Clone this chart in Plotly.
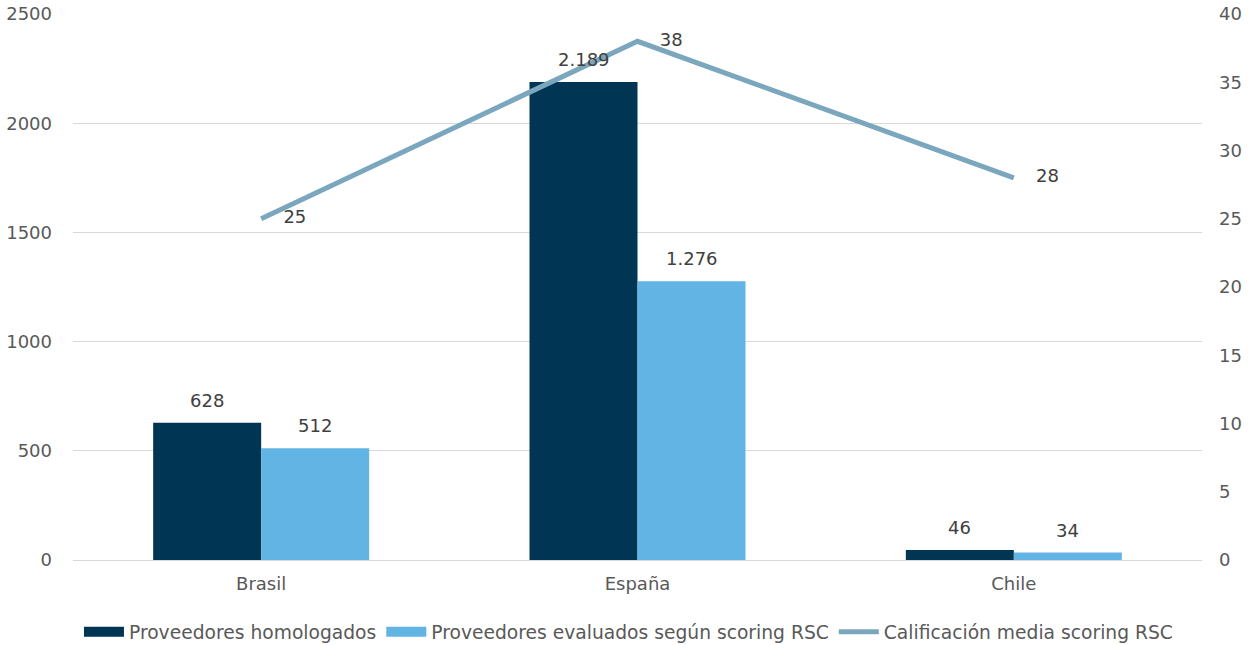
import plotly.graph_objects as go

categories = ["Brasil", "España", "Chile"]
homologados = [628, 2189, 46]
evaluados = [512, 1276, 34]
calificacion = [25, 38, 28]

y_ticks = [0, 500, 1000, 1500, 2000, 2500]
y2_ticks = [0, 5, 10, 15, 20, 25, 30, 35, 40]

font_family = "DejaVu Sans, Verdana, sans-serif"
text_color = "#595959"
label_color = "#404040"
c_dark = "#003554"
c_light = "#62B4E4"
c_line = "#7BA7BE"
FS = 18

def fmt(v):
    return f"{v:,}".replace(",", ".")

fig = go.Figure()
fig.add_trace(go.Bar(
    x=categories, y=homologados, name="Proveedores homologados",
    marker_color=c_dark, marker_line_width=0, showlegend=False,
))
fig.add_trace(go.Bar(
    x=categories, y=evaluados, name="Proveedores evaluados según scoring RSC",
    marker_color=c_light, marker_line_width=0, showlegend=False,
))
fig.add_trace(go.Scatter(
    x=categories, y=calificacion, name="Calificación media scoring RSC",
    mode="lines+markers+text", line=dict(color=c_line, width=5),
    marker=dict(size=34, color="rgba(0,0,0,0)"),
    text=[str(v) for v in calificacion], textposition="middle right",
    textfont=dict(size=FS, color=label_color), yaxis="y2", cliponaxis=False,
    showlegend=False,
))
# legend-only entries
for name, color, w in [("Proveedores homologados", c_dark, 10),
                       ("Proveedores evaluados según scoring RSC", c_light, 10),
                       ("Calificación media scoring RSC", c_line, 5)]:
    fig.add_trace(go.Scatter(x=[None], y=[None], mode="lines", name=name,
                             line=dict(color=color, width=w)))

# bar value labels
for vals, shift in [(homologados, -54), (evaluados, 54)]:
    for c, v in zip(categories, vals):
        fig.add_annotation(x=c, y=v, xref="x", yref="y", text=fmt(v), showarrow=False,
                           xshift=shift, yanchor="bottom", yshift=10,
                           font=dict(size=FS, color=label_color, family=font_family))

fig.update_layout(
    width=1256, height=645,
    margin=dict(l=73, r=54, t=14, b=85, autoexpand=False),
    paper_bgcolor="white", plot_bgcolor="white",
    font=dict(family=font_family, size=FS, color=text_color),
    barmode="group", bargap=0.426, bargroupgap=0,
    showlegend=True,
    legend=dict(orientation="h", x=0.492, xanchor="center", y=-0.132, yanchor="middle",
                font=dict(size=18.7, color=text_color), traceorder="normal",
                itemwidth=40),
    xaxis=dict(showgrid=False, showline=True, linecolor="#D9D9D9", linewidth=1,
               ticks="", ticklabelstandoff=7, automargin=False,
               tickfont=dict(size=FS, color=text_color)),
    yaxis=dict(range=[0, 2500], tickvals=y_ticks, showgrid=True, gridcolor="#D9D9D9",
               gridwidth=1, zeroline=False, ticks="", ticklabelstandoff=20,
               automargin=False, tickfont=dict(size=FS, color=text_color)),
    yaxis2=dict(range=[0, 40], tickvals=y2_ticks, overlaying="y", side="right",
                showgrid=False, zeroline=False, ticks="", ticklabelstandoff=16,
                automargin=False, tickfont=dict(size=FS, color=text_color)),
)

fig.write_html("out.html", config={"displayModeBar": False},
               post_script="document.body.style.margin='0';")
